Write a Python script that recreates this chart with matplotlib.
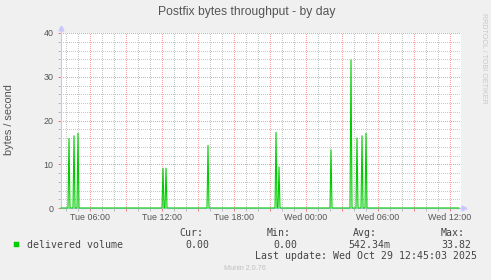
#!/usr/bin/env python

import numpy as np
import matplotlib
matplotlib.use('Agg')
import matplotlib.pyplot as plt
import matplotlib.dates as mdates
from matplotlib.patches import Rectangle
from matplotlib.ticker import MultipleLocator, FuncFormatter

# values
view_start = np.datetime64('2025-10-28T03:35')
view_end = np.datetime64('2025-10-29T12:55')
last_sample = np.datetime64('2025-10-29T12:45')
step = np.timedelta64(5, 'm')

spike_times = np.array(['2025-10-28T04:15', '2025-10-28T04:40', '2025-10-28T05:00',
	'2025-10-28T12:05', '2025-10-28T12:20', '2025-10-28T15:50',
	'2025-10-28T21:30', '2025-10-28T21:45', '2025-10-29T02:05',
	'2025-10-29T03:45', '2025-10-29T04:15', '2025-10-29T04:40',
	'2025-10-29T05:00'], dtype='datetime64[m]')
spike_values = [15.9, 16.5, 17.1, 9.1, 9.1, 14.3, 17.3, 9.4, 13.3, 33.82, 16.0, 16.5, 17.1]

series_label = 'delivered volume'
stat_names = ['Cur:', 'Min:', 'Avg:', 'Max:']
stat_values = ['0.00', '0.00', '542.34m', '33.82']
last_update = 'Last update: Wed Oct 29 12:45:03 2025'

W, H = 491, 280
SANS = 'Liberation Sans'
MONO = 'DejaVu Sans Mono'
TXT = '#555555'


def fx(x):
	'''pixel x to figure fraction'''
	return x / W


def fy(y):
	'''pixel y (from top) to figure fraction'''
	return 1 - y / H


def build_series():
	'''5 minute samples, zero except for the spikes'''
	times = np.arange(view_start, last_sample + step, step)
	values = np.zeros(len(times))
	idx = ((spike_times - view_start) // step).astype(int)
	values[idx] = spike_values
	return times, values


def tick_label(x, pos):
	d = mdates.num2date(x)
	if d.hour % 6 == 0:
		return d.strftime('%a %H:%M')
	return ''


def main():
	times, values = build_series()

	fig = plt.figure(figsize=(W / 100, H / 100), dpi=100, facecolor='#F0F0F0')
	ax = fig.add_axes([fx(61), fy(208), 400 / W, 175 / H])
	ax.set_facecolor('white')

	ax.plot(times, values, color='#00CC00', linewidth=0.8, zorder=4, clip_on=False)

	# axes range
	ax.set_xlim(view_start, view_end)
	ax.set_ylim(0, 40)

	# grid: red every 3 hours / 10 units, grey every hour / 2 units
	ax.xaxis.set_major_locator(mdates.HourLocator(byhour=range(0, 24, 3)))
	ax.xaxis.set_minor_locator(mdates.HourLocator())
	ax.xaxis.set_major_formatter(FuncFormatter(tick_label))
	ax.yaxis.set_major_locator(MultipleLocator(10))
	ax.yaxis.set_minor_locator(MultipleLocator(2))
	ax.set_axisbelow(True)
	ax.grid(which='major', color='#F4A0A0', linestyle=(0, (1, 2)), linewidth=0.72)
	ax.grid(which='minor', color='#C8C8C8', linestyle=(0, (1, 2)), linewidth=0.72)
	# crisp one pixel dots like rrdtool
	for which in ['major', 'minor']:
		for line in ax.xaxis.get_gridlines() + ax.yaxis.get_gridlines():
			line.set_antialiased(False)
	for t in ax.xaxis.get_minor_ticks() + ax.yaxis.get_minor_ticks():
		t.gridline.set_antialiased(False)

	ax.tick_params(which='major', length=2, width=0.72, color='#F08080',
		labelsize=6.4, labelcolor=TXT, pad=1.5)
	ax.tick_params(which='minor', length=2, width=0.72, color='#BBBBBB')
	ax.tick_params(axis='y', pad=3.5)
	for lab in ax.get_xticklabels() + ax.get_yticklabels():
		lab.set_family(SANS)

	# axis lines with arrows
	for side in ['top', 'right']:
		ax.spines[side].set_visible(False)
	for side in ['left', 'bottom']:
		ax.spines[side].set_color('#C8C8FF')
		ax.spines[side].set_linewidth(0.8)
	ax.plot([0, 0], [1, 1.025], color='#C8C8FF', linewidth=0.8,
		transform=ax.transAxes, clip_on=False)
	ax.plot([0], [1.03], marker='^', color='#C8C8FF', markersize=3.5,
		transform=ax.transAxes, clip_on=False)
	ax.plot([1, 1.006], [0, 0], color='#C8C8FF', linewidth=0.8,
		transform=ax.transAxes, clip_on=False)
	ax.plot([1.008], [0], marker='>', color='#C8C8FF', markersize=3.5,
		transform=ax.transAxes, clip_on=False)

	# texts around the graph
	fig.text(fx(246.5), fy(12), 'Postfix bytes throughput - by day', family=SANS,
		fontsize=8.7, color=TXT, ha='center', va='center')
	fig.text(fx(9), fy(120), 'bytes / second', family=SANS, fontsize=7.9,
		color=TXT, rotation=90, ha='center', va='center')
	fig.text(fx(483), fy(58), 'RRDTOOL / TOBI OETIKER', family=SANS, fontsize=5.1,
		color='#C8C8C8', rotation=270, ha='center', va='center')

	# legend block
	fig.patches.append(Rectangle((fx(14), fy(247)), 5 / W, 5 / H,
		transform=fig.transFigure, facecolor='#00CC00', edgecolor='#00CC00', linewidth=0.3))
	fig.text(fx(27), fy(244.5), series_label, family=MONO, fontsize=7.1,
		color='#444444', ha='left', va='center')
	name_x = [179, 267, 353, 441]
	value_x = [185, 273, 348, 441]
	for name, nx, val, vx in zip(stat_names, name_x, stat_values, value_x):
		fig.text(fx(nx), fy(233), name, family=MONO, fontsize=7.1,
			color='#444444', ha='left', va='center')
		fig.text(fx(vx), fy(244.5), val, family=MONO, fontsize=7.1,
			color='#444444', ha='left', va='center')
	fig.text(fx(255), fy(256), last_update, family=MONO, fontsize=7.1,
		color='#444444', ha='left', va='center')
	fig.text(fx(245), fy(268), 'Munin 2.0.76', family=SANS, fontsize=5.2,
		color='#C0C0C0', ha='center', va='center')

	fig.savefig('out.png', dpi=100, facecolor=fig.get_facecolor())
	plt.close(fig)


if __name__ == "__main__":
	main()
